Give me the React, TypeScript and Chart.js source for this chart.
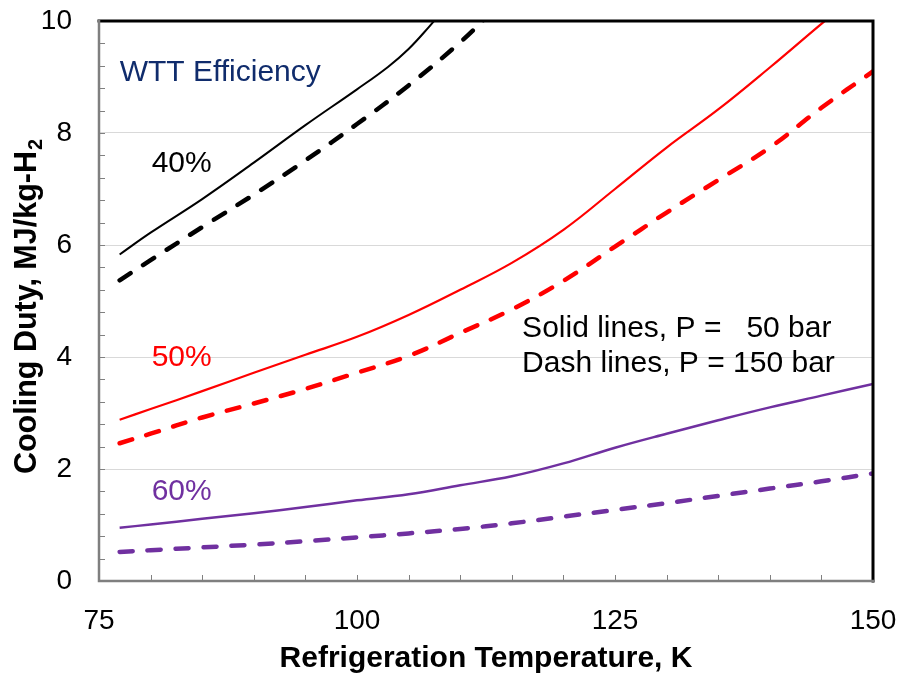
import React, { useEffect, useRef } from "react";
import { Chart, registerables } from "chart.js";

Chart.register(...registerables);

// ---- Data ----
const temps40Solid = [77, 80, 85, 90, 95, 100, 103, 105, 107, 108];
const duty40Solid = [5.83, 6.22, 6.82, 7.47, 8.14, 8.78, 9.18, 9.5, 9.9, 10.12];

const temps40Dash = [77, 80, 85, 90, 95, 100, 105, 110, 113];
const duty40Dash = [5.37, 5.73, 6.32, 6.9, 7.51, 8.16, 8.85, 9.62, 10.15];

const temps50Solid = [77, 80, 85, 90, 95, 100, 105, 110, 115, 120, 125, 130, 135, 140, 145, 147];
const duty50Solid = [2.88, 3.07, 3.39, 3.72, 4.04, 4.36, 4.75, 5.2, 5.68, 6.27, 7.0, 7.74, 8.42, 9.17, 9.95, 10.25];

const tempsFull = [77, 80, 85, 90, 95, 100, 105, 110, 115, 120, 125, 130, 135, 140, 145, 150];
const duty50Dash = [2.46, 2.63, 2.92, 3.17, 3.43, 3.72, 4.02, 4.43, 4.85, 5.36, 5.97, 6.58, 7.16, 7.74, 8.45, 9.1];
const duty60Solid = [0.95, 1.01, 1.11, 1.21, 1.32, 1.44, 1.55, 1.71, 1.87, 2.1, 2.38, 2.63, 2.87, 3.1, 3.31, 3.52];
const duty60Dash = [0.52, 0.55, 0.6, 0.65, 0.71, 0.78, 0.85, 0.93, 1.03, 1.15, 1.27, 1.39, 1.52, 1.65, 1.78, 1.92];

const xTickValues = [75, 100, 125, 150];
const yTickValues = [0, 2, 4, 6, 8, 10];

const xTitle = "Refrigeration Temperature, K";
const yTitleMain = "Cooling Duty, MJ/kg-H";
const yTitleSub = "2";

const annotations = [
  { text: "WTT Efficiency", x: 77.0, y: 9.07, color: "#102C6C" },
  { text: "40%", x: 80.1, y: 7.45, color: "#000000" },
  { text: "50%", x: 80.1, y: 3.99, color: "#FF0000" },
  { text: "60%", x: 80.1, y: 1.6, color: "#7030A0" },
  { text: "Solid lines, P =   50 bar", x: 116.0, y: 4.5, color: "#000000" },
  { text: "Dash lines, P = 150 bar", x: 116.0, y: 3.88, color: "#000000" },
];

const FONT = '"Liberation Sans", Arial, sans-serif';

const toPoints = (xs: number[], ys: number[]) => xs.map((x, i) => ({ x, y: ys[i] }));

const framePlugin = {
  id: "frameAndNotes",
  afterDatasetsDraw(chart: any) {
    const { ctx, chartArea, scales } = chart;
    const xs = scales.x;
    const ys = scales.y;
    const { left, right, top, bottom } = chartArea;
    ctx.save();
    // minor ticks (inside)
    ctx.strokeStyle = "#808080";
    ctx.lineWidth = 1;
    ctx.beginPath();
    for (let i = 1; i < 25; i++) {
      const py = Math.round(ys.getPixelForValue(i * 0.4)) + 0.5;
      ctx.moveTo(left, py);
      ctx.lineTo(left + 6, py);
    }
    for (let i = 1; i < 15; i++) {
      const px = Math.round(xs.getPixelForValue(75 + i * 5)) + 0.5;
      ctx.moveTo(px, bottom);
      ctx.lineTo(px, bottom - 6);
    }
    ctx.stroke();
    // frame
    ctx.lineCap = "square";
    ctx.strokeStyle = "#000000";
    ctx.lineWidth = 3;
    ctx.beginPath();
    ctx.moveTo(left, top);
    ctx.lineTo(right, top);
    ctx.lineTo(right, bottom);
    ctx.stroke();
    ctx.strokeStyle = "#7F7F7F";
    ctx.lineWidth = 2.5;
    ctx.beginPath();
    ctx.moveTo(left, top);
    ctx.lineTo(left, bottom);
    ctx.lineTo(right, bottom);
    ctx.stroke();
    // annotations
    ctx.font = `30px ${FONT}`;
    ctx.textAlign = "left";
    ctx.textBaseline = "middle";
    for (const a of annotations) {
      ctx.fillStyle = a.color;
      ctx.fillText(a.text, xs.getPixelForValue(a.x), ys.getPixelForValue(a.y));
    }
    // y axis title with subscript
    const midY = (top + bottom) / 2;
    ctx.font = `bold 30.5px ${FONT}`;
    const wMain = ctx.measureText(yTitleMain).width;
    ctx.font = `bold 20px ${FONT}`;
    const wSub = ctx.measureText(yTitleSub).width;
    const total = wMain + wSub;
    ctx.translate(36, midY + 6 + total / 2);
    ctx.rotate(-Math.PI / 2);
    ctx.fillStyle = "#000";
    ctx.textAlign = "left";
    ctx.textBaseline = "alphabetic";
    ctx.font = `bold 30.5px ${FONT}`;
    ctx.fillText(yTitleMain, 0, 0);
    ctx.font = `bold 20px ${FONT}`;
    ctx.fillText(yTitleSub, wMain + 1, 6);
    ctx.restore();
  },
};

export default function App() {
  const ref = useRef<HTMLCanvasElement | null>(null);

  useEffect(() => {
    if (!ref.current) return;
    const solid = (w: number) => ({ borderWidth: w, borderDash: [] as number[] });
    const dash = { borderWidth: 4.5, borderDash: [13, 15], borderCapStyle: "round" as const };
    const chart = new Chart(ref.current, {
      type: "line",
      data: {
        datasets: [
          { label: "40% 50 bar", data: toPoints(temps40Solid, duty40Solid), borderColor: "#000000", ...solid(2) },
          { label: "40% 150 bar", data: toPoints(temps40Dash, duty40Dash), borderColor: "#000000", ...dash },
          { label: "50% 50 bar", data: toPoints(temps50Solid, duty50Solid), borderColor: "#FF0000", ...solid(2.2) },
          { label: "50% 150 bar", data: toPoints(tempsFull, duty50Dash), borderColor: "#FF0000", ...dash },
          { label: "60% 50 bar", data: toPoints(tempsFull, duty60Solid), borderColor: "#7030A0", ...solid(2.5) },
          { label: "60% 150 bar", data: toPoints(tempsFull, duty60Dash), borderColor: "#7030A0", ...dash },
        ],
      },
      options: {
        responsive: false,
        animation: false,
        devicePixelRatio: 1,
        layout: { padding: { top: 21, right: 26, left: 0, bottom: 0 } },
        elements: {
          point: { radius: 0 },
          line: { tension: 0.4, fill: false },
        },
        plugins: { legend: { display: false }, tooltip: { enabled: false } },
        scales: {
          x: {
            type: "linear",
            min: 75,
            max: 150,
            afterBuildTicks: (s: any) => {
              s.ticks = xTickValues.map((v) => ({ value: v }));
            },
            afterFit: (s: any) => {
              s.height = 93;
              s.paddingLeft = 0;
              s.paddingRight = 0;
            },
            grid: { display: false, drawTicks: false },
            border: { display: false },
            ticks: { color: "#000", font: { family: FONT, size: 28 }, padding: 23, maxRotation: 0 },
            title: {
              display: true,
              text: xTitle,
              color: "#000",
              font: { family: FONT, size: 30, weight: "bold" },
              padding: { top: 0, bottom: -3 },
            },
          },
          y: {
            type: "linear",
            min: 0,
            max: 10,
            afterBuildTicks: (s: any) => {
              s.ticks = yTickValues.map((v) => ({ value: v }));
            },
            afterFit: (s: any) => {
              s.width = 99;
              s.paddingTop = 0;
              s.paddingBottom = 0;
            },
            grid: {
              drawTicks: false,
              lineWidth: 1,
              color: (c: any) => (c.tick && (c.tick.value === 0 || c.tick.value === 10) ? "rgba(0,0,0,0)" : "#D9D9D9"),
            },
            border: { display: false },
            ticks: { color: "#000", font: { family: FONT, size: 28 }, padding: 27 },
            title: { display: false },
          },
        },
      },
      plugins: [framePlugin],
    });
    return () => chart.destroy();
  }, []);

  return (
    <div style={{ position: "absolute", left: 0, top: 0, width: 899, height: 674, background: "#fff" }}>
      <canvas ref={ref} width={899} height={674} style={{ display: "block" }} />
    </div>
  );
}
